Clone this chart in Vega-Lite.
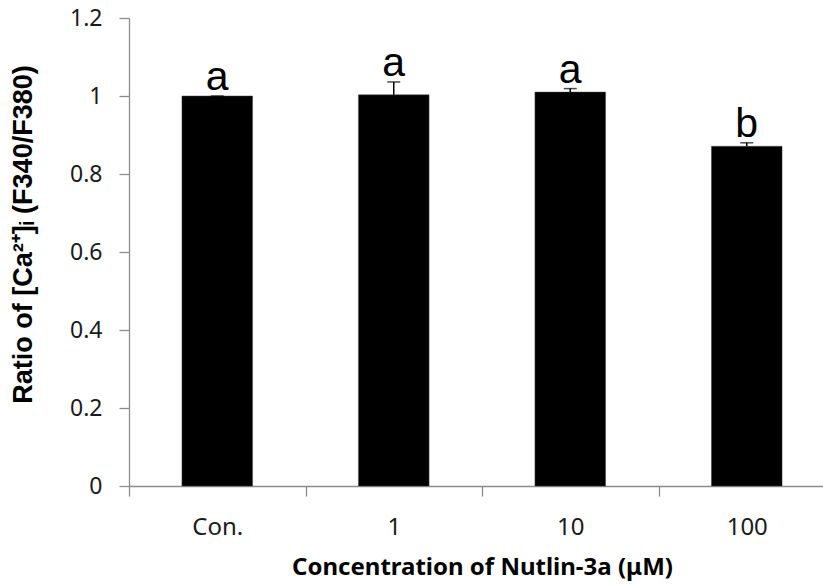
{
  "$schema": "https://vega.github.io/schema/vega-lite/v6.json",
  "width": 694,
  "height": 468,
  "autosize": {"type": "none"},
  "padding": {"left": 129, "top": 18, "right": 0, "bottom": 98},
  "background": "white",
  "config": {"view": {"stroke": null}},
  "data": {
    "values": [
      {"cat": "Con.", "mean": 1.0, "upper": 1.0, "sig": "a"},
      {"cat": "1", "mean": 1.003, "upper": 1.036, "sig": "a"},
      {"cat": "10", "mean": 1.01, "upper": 1.019, "sig": "a"},
      {"cat": "100", "mean": 0.871, "upper": 0.88, "sig": "b"}
    ]
  },
  "encoding": {
    "x": {
      "field": "cat",
      "type": "nominal",
      "sort": ["Con.", "1", "10", "100"],
      "scale": {"range": [0, 706], "paddingInner": 0.6, "paddingOuter": 0.3},
      "axis": {
        "title": "Concentration of Nutlin-3a (μM)",
        "titleFont": "Noto Sans",
        "titleFontWeight": "bold",
        "titleFontSize": 24,
        "titleColor": "#000",
        "titlePadding": 16,
        "titleX": 353,
        "labelAngle": 0,
        "labelFont": "Noto Sans",
        "labelFontSize": 24,
        "labelColor": "#1a1a1a",
        "labelPadding": 19,
        "bandPosition": 0.5,
        "tickOffset": -88.25,
        "labelOffset": 88.25,
        "tickSize": 10,
        "tickColor": "#8c8c8c",
        "domainColor": "#8c8c8c",
        "tickWidth": 1.3,
        "domainWidth": 1.3
      }
    }
  },
  "layer": [
    {
      "mark": {"type": "bar", "color": "#000", "stroke": "#444", "strokeWidth": 0.5},
      "encoding": {
        "y": {
          "field": "mean",
          "type": "quantitative",
          "scale": {"domain": [0, 1.2], "nice": false},
          "axis": {
            "values": [0, 0.2, 0.4, 0.6, 0.8, 1, 1.2],
            "format": "~g",
            "grid": false,
            "title": "Ratio of [Ca²⁺]ᵢ (F340/F380)",
            "titleFont": "Liberation Sans",
            "titleFontWeight": "bold",
            "titleFontSize": 27,
            "titleColor": "#000",
            "titlePadding": 32,
            "titleY": 216,
            "labelFont": "Noto Sans",
            "labelFontSize": 23,
            "labelColor": "#1a1a1a",
            "labelPadding": 17,
            "tickSize": 10,
            "tickColor": "#8c8c8c",
            "domainColor": "#8c8c8c",
            "tickWidth": 1.3,
            "domainWidth": 1.3
          }
        }
      }
    },
    {
      "mark": {"type": "rule", "color": "#000", "strokeWidth": 1.5},
      "encoding": {
        "y": {"field": "mean", "type": "quantitative"},
        "y2": {"field": "upper"}
      }
    },
    {
      "mark": {"type": "tick", "color": "#000", "size": 13, "thickness": 1.5},
      "encoding": {
        "y": {"field": "upper", "type": "quantitative"}
      }
    },
    {
      "mark": {"type": "text", "font": "Liberation Sans", "fontSize": 41, "color": "#000", "baseline": "alphabetic", "dy": -6},
      "encoding": {
        "y": {"field": "upper", "type": "quantitative"},
        "text": {"field": "sig"}
      }
    }
  ]
}
